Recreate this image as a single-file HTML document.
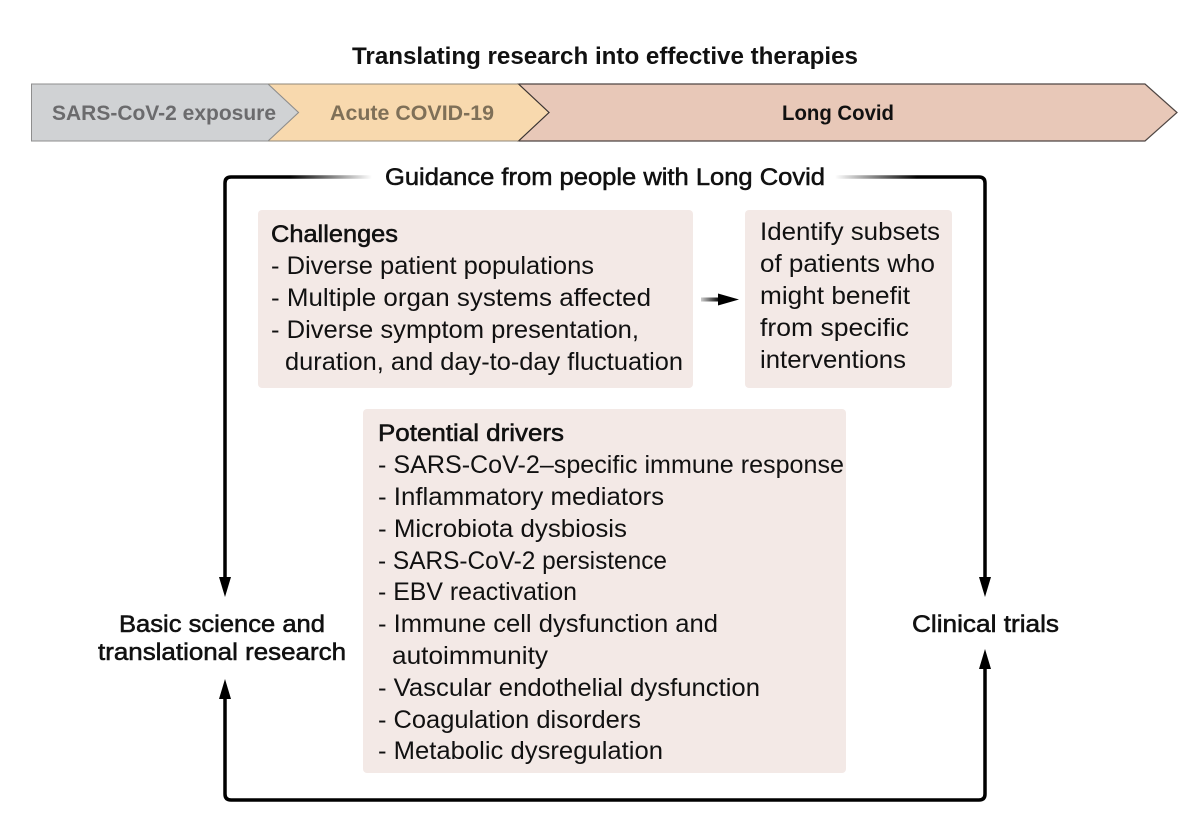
<!DOCTYPE html>
<html><head><meta charset="utf-8"><style>html,body{margin:0;padding:0;background:#fff}svg{display:block}text{font-family:"Liberation Sans",sans-serif;fill:#111;font-size:25px}.t{font-size:24px;font-weight:bold}.m{font-size:24px;stroke:#111;stroke-width:.55px}.b{font-size:21px;font-weight:bold}</style></head>
<body>
<svg width="1200" height="819" viewBox="0 0 1200 819" xmlns="http://www.w3.org/2000/svg">
<defs>
<linearGradient id="gl" gradientUnits="userSpaceOnUse" x1="372" y1="0" x2="290" y2="0"><stop offset="0" stop-color="#000" stop-opacity="0"/><stop offset="1" stop-color="#000"/></linearGradient>
<linearGradient id="gr" gradientUnits="userSpaceOnUse" x1="835" y1="0" x2="917" y2="0"><stop offset="0" stop-color="#000" stop-opacity="0"/><stop offset="1" stop-color="#000"/></linearGradient>
<linearGradient id="gm" gradientUnits="userSpaceOnUse" x1="701" y1="0" x2="720" y2="0"><stop offset="0" stop-color="#000" stop-opacity="0.2"/><stop offset="1" stop-color="#000"/></linearGradient>
</defs>
<text class="t" x="352" y="64" textLength="506" lengthAdjust="spacingAndGlyphs">Translating research into effective therapies</text>
<polygon points="518.500,84 1145,84 1177,112.500 1145,141 518.500,141 549,112.500" fill="#e8c8b8" stroke="#4f4643" stroke-width="1.200"/>
<polygon points="268,84 518.500,84 549,112.500 518.500,141 268,141 298.500,112.500" fill="#f8d9ae" stroke="#8f8778" stroke-width="1"/>
<path d="M518.500,84 L549,112.500 L518.500,141" fill="none" stroke="#3a3230" stroke-width="1"/>
<polygon points="31.500,84 268,84 298.500,112.500 268,141 31.500,141" fill="#d0d2d4" stroke="#8e8e8e" stroke-width="1"/>
<text class="b" x="52" y="120" textLength="224" lengthAdjust="spacingAndGlyphs" style="fill:#6b6b6d">SARS-CoV-2 exposure</text>
<text class="b" x="330" y="120" textLength="164" lengthAdjust="spacingAndGlyphs" style="fill:#7f7058">Acute COVID-19</text>
<text class="b" x="782" y="120" textLength="112" lengthAdjust="spacingAndGlyphs">Long Covid</text>
<rect x="258" y="210" width="435" height="178" rx="4" fill="#f3e9e6"/>
<rect x="745" y="210" width="207" height="178" rx="4" fill="#f3e9e6"/>
<rect x="363" y="409" width="483" height="364" rx="4" fill="#f3e9e6"/>
<path d="M372 177H231Q225 177 225 183V580" fill="none" stroke="url(#gl)" stroke-width="3.500"/>
<path d="M835 177H979Q985 177 985 183V580" fill="none" stroke="url(#gr)" stroke-width="3.500"/>
<path d="M225 695V794Q225 800 231 800H979Q985 800 985 794V665" fill="none" stroke="#000" stroke-width="3.500"/>
<polygon points="219,577 231,577 225,597" fill="#000"/>
<polygon points="979,577 991,577 985,597" fill="#000"/>
<polygon points="219,699 231,699 225,679" fill="#000"/>
<polygon points="979,669 991,669 985,649" fill="#000"/>
<rect x="701" y="297.500" width="20" height="4" fill="url(#gm)"/>
<polygon points="718,293.500 739,299.500 718,305.500" fill="#000"/>
<text class="m" x="385" y="185" textLength="440" lengthAdjust="spacingAndGlyphs">Guidance from people with Long Covid</text>
<text class="m" x="271" y="242" textLength="127" lengthAdjust="spacingAndGlyphs">Challenges</text>
<text x="271" y="274" textLength="323" lengthAdjust="spacingAndGlyphs">- Diverse patient populations</text>
<text x="271" y="306" textLength="380" lengthAdjust="spacingAndGlyphs">- Multiple organ systems affected</text>
<text x="271" y="338" textLength="368" lengthAdjust="spacingAndGlyphs">- Diverse symptom presentation,</text>
<text x="285" y="370" textLength="398" lengthAdjust="spacingAndGlyphs">duration, and day-to-day fluctuation</text>
<text x="760" y="240" textLength="180" lengthAdjust="spacingAndGlyphs">Identify subsets</text>
<text x="760" y="272" textLength="175" lengthAdjust="spacingAndGlyphs">of patients who</text>
<text x="760" y="304" textLength="150" lengthAdjust="spacingAndGlyphs">might benefit</text>
<text x="760" y="336" textLength="149" lengthAdjust="spacingAndGlyphs">from specific</text>
<text x="760" y="368" textLength="146" lengthAdjust="spacingAndGlyphs">interventions</text>
<text class="m" x="378" y="441" textLength="186" lengthAdjust="spacingAndGlyphs">Potential drivers</text>
<text x="378" y="473" textLength="466" lengthAdjust="spacingAndGlyphs">- SARS-CoV-2–specific immune response</text>
<text x="378" y="505" textLength="286" lengthAdjust="spacingAndGlyphs">- Inflammatory mediators</text>
<text x="378" y="537" textLength="249" lengthAdjust="spacingAndGlyphs">- Microbiota dysbiosis</text>
<text x="378" y="569" textLength="289" lengthAdjust="spacingAndGlyphs">- SARS-CoV-2 persistence</text>
<text x="378" y="600" textLength="199" lengthAdjust="spacingAndGlyphs">- EBV reactivation</text>
<text x="378" y="632" textLength="340" lengthAdjust="spacingAndGlyphs">- Immune cell dysfunction and</text>
<text x="392" y="664" textLength="156" lengthAdjust="spacingAndGlyphs">autoimmunity</text>
<text x="378" y="696" textLength="382" lengthAdjust="spacingAndGlyphs">- Vascular endothelial dysfunction</text>
<text x="378" y="728" textLength="263" lengthAdjust="spacingAndGlyphs">- Coagulation disorders</text>
<text x="378" y="759" textLength="285" lengthAdjust="spacingAndGlyphs">- Metabolic dysregulation</text>
<text class="m" x="119" y="632" textLength="206" lengthAdjust="spacingAndGlyphs">Basic science and</text>
<text class="m" x="98" y="660" textLength="248" lengthAdjust="spacingAndGlyphs">translational research</text>
<text class="m" x="912" y="632" textLength="147" lengthAdjust="spacingAndGlyphs">Clinical trials</text>
</svg>
</body></html>
